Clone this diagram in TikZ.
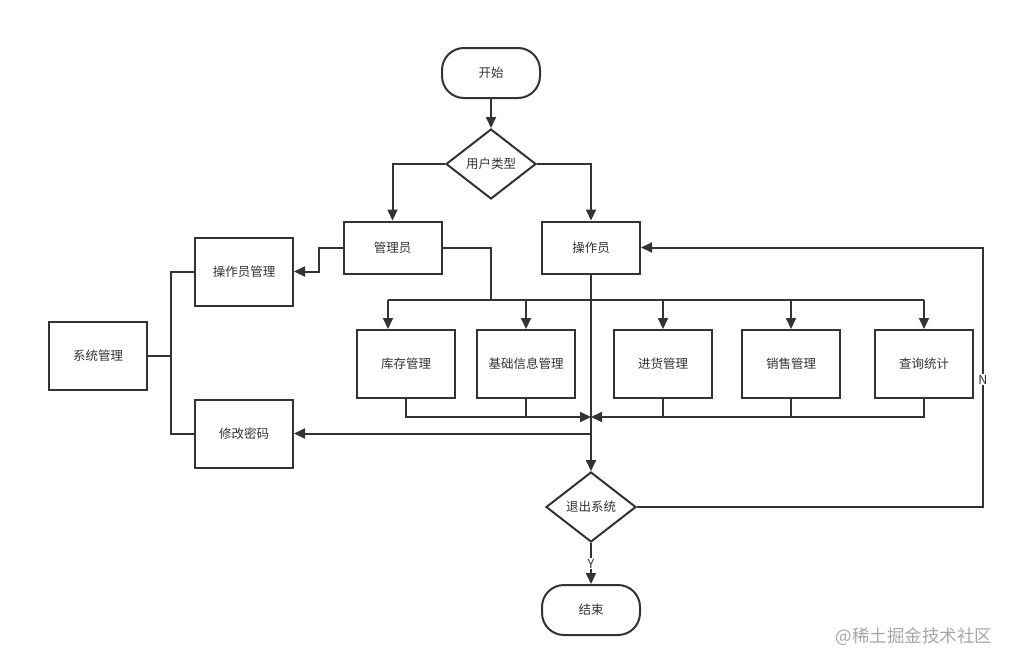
\documentclass[tikz,border=0pt]{standalone}
\usepackage{fontspec}
\newfontfamily\cjk{Noto Sans CJK SC}
\usetikzlibrary{shapes.geometric, arrows.meta}

\begin{document}
\begin{tikzpicture}[x=1pt,y=-1pt,
  every node/.style={font=\cjk\fontsize{12.5}{14}\selectfont, text=black!80},
  box/.style={draw=black!80, line width=2pt, fill=white, minimum width=98pt, minimum height=68pt, inner sep=0pt},
  tbox/.style={box, minimum height=52pt},
  term/.style={box, minimum height=50pt, rounded corners=22pt},
  ask/.style={draw=black!80, line width=2pt, fill=white, diamond, minimum width=90pt, minimum height=70pt, inner sep=0pt},
  link/.style={draw=black!80, line width=2pt},
  arr/.style={link, -{Triangle[length=11pt,width=10pt]}},
  lbl/.style={fill=white, inner sep=1pt}]
\useasboundingbox (0,0) rectangle (1015,667);
% start and user type
\node[term] (start) at (491,73) {开始};
\node[ask] (usertype) at (491,164) {用户类型};
\node[tbox] (admin) at (392.5,247.5) {管理员};
\node[tbox] (oper) at (591,247.5) {操作员};
% system management branch
\node[box] (opmgr) at (244,271.5) {操作员管理};
\node[box] (pwd) at (244,433.5) {修改密码};
\node[box] (sysmgr) at (98,355.5) {系统管理};
% function boxes
\node[box] (stock) at (406,364) {库存管理};
\node[box] (basic) at (526,364) {基础信息管理};
\node[box] (buy) at (663,364) {进货管理};
\node[box] (sell) at (791,364) {销售管理};
\node[box] (query) at (924,364) {查询统计};
% exit and end
\node[ask] (exitq) at (591,507) {退出系统};
\node[term] (finish) at (591,610) {结束};
\coordinate (bus) at (491,300);
\coordinate (stockin) at (388,329);
\coordinate (merge) at (591,417);
\coordinate (sysjoin) at (171,355.5);
\coordinate (nback) at (983,507);

\draw[arr] (start) -- (usertype);
\draw[arr] (usertype.west) -| (admin.north);
\draw[arr] (usertype.east) -| (oper.north);
\draw[arr] (admin.west) -- ++(-24,0) |- (opmgr.east);
\draw[link] (sysmgr.east) -- (sysjoin);
\draw[link] (opmgr.west) -| (sysjoin) |- (pwd.west);
% distribution bus
\draw[link] (admin.east) -| (bus);
\draw[link] (stockin |- bus) -- (query.north |- bus);
\draw[arr] (stockin |- bus) -- (stockin);
\foreach \n in {basic,buy,sell,query}
  \draw[arr] (\n.north |- bus) -- (\n.north);
\draw[arr] (oper.south) -- (exitq.north);
\draw[arr] (oper.south |- pwd.east) -- (pwd.east);
% merge back
\draw[arr] (stock.south) |- (merge);
\draw[link] (basic.south) -- (basic.south |- merge);
\draw[arr] (query.south) |- (merge);
\draw[link] (buy.south) -- (buy.south |- merge);
\draw[link] (sell.south) -- (sell.south |- merge);
\draw[arr] (exitq.south) -- node[lbl] {Y} (finish.north);
\draw[arr] (exitq.east) -- (nback) -- node[lbl, pos=0.49] {N} (nback |- oper.east) -- (oper.east);
\node[anchor=east, text=black!35, font=\cjk\fontsize{17.5}{19}\selectfont] (mark) at (996,637) {@稀土掘金技术社区};
\end{tikzpicture}
\end{document}
